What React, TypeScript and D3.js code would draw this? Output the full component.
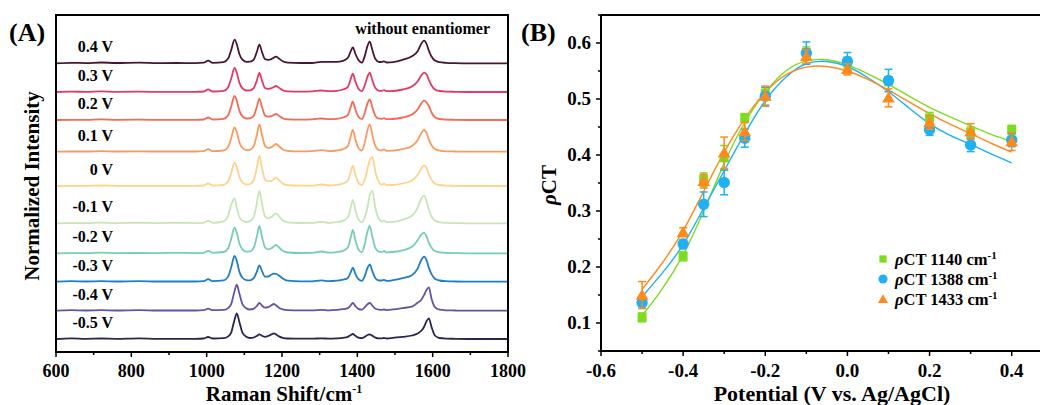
import React from 'react';
import * as d3 from 'd3';

// ---------- Panel A data ----------
const wavenumbers = [600, 640, 680, 720, 760, 820, 870, 920, 970, 992, 1004, 1016, 1045, 1057, 1065, 1074, 1080, 1087, 1095, 1105, 1115, 1125, 1133, 1140, 1147, 1155, 1163, 1172, 1178, 1184, 1192, 1202, 1215, 1250, 1280, 1305, 1325, 1345, 1362, 1375, 1382, 1388, 1395, 1403, 1412, 1420, 1427, 1433, 1440, 1448, 1458, 1465, 1471, 1478, 1495, 1520, 1545, 1560, 1569, 1577, 1584, 1590, 1597, 1606, 1618, 1635, 1660, 1700, 1800];

const voltageLabels = ['0.4 V', '0.3 V', '0.2 V', '0.1 V', '0 V', '-0.1 V', '-0.2 V', '-0.3 V', '-0.4 V', '-0.5 V'];
const offsets = [288.7, 260, 232, 200.3, 166, 128.7, 98.7, 70.3, 41.3, 13];

const specP04 = [0, 0.5, 0.2, 0.8, 0.3, 0.7, 0.2, 0.3, 0.2, 0.6, 2.7, 0.5, 1.2, 4.7, 13, 23.7, 19, 9, 3.6, 1.5, 1.6, 3.7, 11.2, 18.7, 11.2, 4.1, 3.5, 4.2, 5.6, 6.7, 4.7, 2, 0.7, 0.3, 0.3, 1.5, 1.5, 1.5, 2.5, 5.5, 11.6, 16, 9.3, 3.3, 0.6, 7.6, 17.4, 21.7, 13, 4.3, 1.3, 1.5, 2, 0.8, 1.2, 3.5, 7, 12, 19, 22.7, 19.3, 12.5, 6.8, 2.7, 1.1, 0.5, 0.2, 0, 0];
const specP03 = [0, 0.3, 0.2, 0.6, 0.2, 0.3, 0.2, 0.2, 0.2, 0.5, 2.7, 0.5, 1.2, 4.8, 13.2, 24, 19.2, 9.1, 3.6, 1.5, 1.6, 3.8, 11.4, 19, 11.4, 4, 3.2, 3.8, 5, 6, 4.2, 1.8, 0.6, 0.3, 0.6, 1.5, 0.8, 1.2, 2.5, 5.2, 12.5, 18.3, 10.3, 3.3, 0.8, 7, 15.4, 19.3, 11.6, 3.9, 1.2, 1.2, 1.8, 0.8, 1, 2.5, 5.5, 10.5, 16, 19.3, 17.5, 12, 6.5, 2.5, 1, 0.4, 0.2, 0, 0];
const specP02 = [0, 0.2, 0.2, 0.6, 0.2, 0.3, 0.2, 0.2, 0.2, 0.5, 2.5, 0.5, 1.2, 4.8, 13.2, 24, 19.2, 9.1, 3.6, 1.5, 1.7, 4.3, 12.8, 21.3, 12.8, 4.5, 3.3, 3.8, 5, 6, 4.2, 1.8, 0.6, 0.3, 0.6, 1.5, 0.8, 1.2, 2.5, 5.2, 12.5, 18.3, 10.3, 3.3, 0.9, 7.5, 16.6, 20.7, 12.4, 4.1, 1.3, 1.2, 1.8, 0.8, 1, 2.5, 5.5, 10.5, 16, 19.3, 17.5, 14, 7.5, 2.8, 1, 0.4, 0.2, 0, 0];
const specP01 = [0, 0.2, 0.2, 0.6, 0.2, 0.3, 0.2, 0.2, 0.2, 0.5, 2.5, 0.5, 1.2, 4.9, 13.4, 24.3, 19.4, 9.2, 3.7, 1.6, 1.9, 5.5, 16.4, 27.3, 16.4, 5.8, 3.8, 4.6, 6.3, 7.7, 5.4, 2.3, 0.8, 0.3, 0.5, 1.5, 0.6, 1.2, 2.5, 5.8, 14.5, 21.7, 12, 3.6, 1, 9.6, 21.8, 27.3, 16.4, 5.5, 1.6, 1.4, 2.3, 0.9, 1, 2.5, 5.8, 11.5, 18, 21.7, 18.5, 12, 6.5, 2.6, 1.1, 0.4, 0.2, 0, 0];
const spec00 = [0, 0.2, 0.2, 0.5, 0.2, 0.2, 0.2, 0.2, 0.2, 0.5, 2.5, 0.5, 1.2, 4.7, 12.8, 23.3, 18.6, 8.9, 3.5, 1.5, 2, 6, 18, 30, 18, 6.3, 4.8, 5.2, 6.8, 8.3, 5.8, 2.5, 0.8, 0.3, 0.4, 1.5, 0.5, 1.2, 2.5, 5.5, 13.5, 20, 11, 3.3, 0.8, 6.5, 17, 26, 29, 14, 3.5, 1.4, 2.3, 0.9, 1, 2.5, 5.6, 11, 17, 20.7, 17.8, 11.5, 6.2, 2.5, 1, 0.4, 0.2, 0, 0];
const specN01 = [0, 0.2, 0.2, 0.6, 0.2, 0.5, 0.2, 0.5, 0.2, 0.5, 2.5, 0.5, 2, 7.5, 18.5, 25, 15, 6.3, 2.5, 1.3, 2.2, 6.5, 19.4, 32.3, 19.4, 6.8, 5, 6.2, 8.4, 10, 7, 3, 1, 0.3, 0.4, 1.5, 0.5, 1.2, 2.5, 6, 15, 23.3, 13, 3.8, 1, 6, 16, 28, 32.3, 15, 4, 1.6, 2.8, 1.2, 1.5, 3.5, 7.5, 15.5, 24, 27.7, 22, 13.5, 6.8, 2.8, 1.1, 0.4, 0.2, 0, 0];
const specN02 = [0, 0.2, 0.2, 0.6, 0.2, 0.3, 0.2, 0.5, 0.2, 0.5, 2.5, 0.5, 1.3, 5.1, 14.1, 25.7, 20.6, 9.8, 3.9, 1.6, 1.9, 5.5, 16.4, 27.3, 16.4, 5.8, 4, 5, 6.8, 8.3, 5.8, 2.5, 0.8, 0.3, 0.4, 1.8, 0.6, 1.2, 2.5, 6, 15, 23.3, 12.8, 3.8, 1.2, 9.6, 21.8, 27.3, 16.4, 5.5, 1.6, 1.4, 2.3, 0.9, 1.3, 3, 6.5, 13, 18.5, 20.7, 16.5, 10.5, 5.5, 2.3, 1, 0.4, 0.2, 0, 0];
const specN03 = [0, 0.5, 0.2, 0.5, 0.2, 0.6, 0.2, 0.2, 0.2, 0.5, 2.5, 0.5, 1.3, 5.1, 14.1, 25.7, 20.6, 9.8, 3.9, 1.6, 1.4, 3.5, 9.8, 16.3, 10.5, 5, 5.2, 7.2, 8, 7.8, 6.2, 3.2, 1, 0.3, 0.4, 1.3, 0.5, 1, 2, 3.8, 9, 14, 7.7, 2.5, 0.8, 6, 13.8, 17.3, 10.4, 3.5, 1.2, 1.2, 1.8, 0.8, 1.5, 3.5, 6.5, 13, 21, 25, 21.3, 13.8, 7.5, 3, 1.2, 0.5, 0.2, 0, 0];
const specN04 = [0, 0.5, 0.2, 0.5, 0.2, 0.6, 0.2, 0.2, 0.2, 0.5, 2, 0.5, 0.8, 2.6, 6.5, 19.5, 26, 16.9, 6.5, 2.3, 1.2, 2, 4.6, 7.7, 5, 3, 3.5, 5.4, 6.7, 5.4, 3, 1.3, 0.6, 0.3, 0.3, 0.8, 0.4, 0.8, 1.5, 2.6, 5.2, 7.7, 4.6, 1.8, 1, 3.5, 6.5, 7.7, 5, 2, 1, 0.8, 1.2, 0.6, 1.3, 2.6, 4, 8, 10.5, 15.5, 21, 23.3, 12, 3.5, 1, 0.4, 0.2, 0, 0];
const specN05 = [0, 0.7, 0.2, 0.5, 0.2, 0.7, 0.2, 0.2, 0.2, 0.5, 2, 0.5, 0.8, 2.6, 6.4, 19.3, 25.7, 16.7, 6.4, 2.3, 1, 1.5, 3, 4.7, 3.2, 2.2, 3, 4.6, 5.7, 4.6, 2.6, 1.1, 0.5, 0.3, 0.3, 0.7, 0.3, 0.6, 1.2, 2.2, 3.8, 5, 3.2, 1.3, 0.8, 2.3, 4, 4.7, 3.2, 1.4, 0.6, 0.6, 1, 0.5, 1.2, 2.2, 3.5, 5.5, 8, 12, 18, 20.7, 12, 3.5, 1, 0.4, 0.2, 0, 0];

const spectra = [specP04, specP03, specP02, specP01, spec00, specN01, specN02, specN03, specN04, specN05];
const spectraColors = ['#4a1531', '#e23a62', '#f46a55', '#fb9a5c', '#fdd38f', '#c8e6b5', '#76cfae', '#1f7fc2', '#6552a5', '#2b2550'];

const ticksA = [600, 800, 1000, 1200, 1400, 1600, 1800];
const minorTicksA = [700, 900, 1100, 1300, 1500, 1700];

// ---------- Panel B data ----------
const potentials = [-0.5, -0.4, -0.35, -0.3, -0.25, -0.2, -0.1, 0, 0.1, 0.2, 0.3, 0.4];
const rho1140 = [0.110, 0.219, 0.356, 0.395, 0.466, 0.510, 0.583, 0.565, 0.532, 0.466, 0.440, 0.445];
const err1140 = [0.008, 0.008, 0.012, 0.022, 0.008, 0.010, 0.010, 0.010, 0.008, 0.010, 0.010, 0.008];
const rho1388 = [0.136, 0.241, 0.312, 0.351, 0.430, 0.505, 0.582, 0.567, 0.533, 0.445, 0.418, 0.427];
const err1388 = [0.010, 0.008, 0.022, 0.022, 0.016, 0.016, 0.020, 0.016, 0.020, 0.010, 0.012, 0.012];
const rho1433 = [0.150, 0.262, 0.353, 0.404, 0.442, 0.505, 0.576, 0.553, 0.502, 0.458, 0.442, 0.424];
const err1433 = [0.024, 0.008, 0.012, 0.028, 0.016, 0.018, 0.012, 0.010, 0.016, 0.012, 0.014, 0.016];

const fitX = [-0.5, -0.45, -0.4, -0.35, -0.3, -0.25, -0.2, -0.15, -0.1, -0.05, 0, 0.05, 0.1, 0.15, 0.2, 0.25, 0.3, 0.35, 0.4];
const fit1140 = [0.113, 0.162, 0.222, 0.300, 0.385, 0.458, 0.512, 0.550, 0.568, 0.570, 0.561, 0.545, 0.526, 0.505, 0.485, 0.468, 0.452, 0.437, 0.424];
const fit1388 = [0.147, 0.190, 0.240, 0.305, 0.372, 0.438, 0.497, 0.539, 0.563, 0.567, 0.558, 0.538, 0.513, 0.484, 0.456, 0.435, 0.419, 0.402, 0.386];
const fit1433 = [0.160, 0.208, 0.265, 0.335, 0.405, 0.465, 0.512, 0.543, 0.557, 0.558, 0.550, 0.535, 0.516, 0.495, 0.474, 0.455, 0.438, 0.421, 0.405];

const ticksBX = [-0.6, -0.4, -0.2, 0.0, 0.2, 0.4];
const minorBX = [-0.5, -0.3, -0.1, 0.1, 0.3, 0.5];
const ticksBY = [0.1, 0.2, 0.3, 0.4, 0.5, 0.6];
const minorBY = [0.05, 0.15, 0.25, 0.35, 0.45, 0.55, 0.65];
const legendBands = ['1140', '1388', '1433'];

const FONT = "'Liberation Serif', 'Times New Roman', serif";

export default function App() {
  // Panel A scales
  const xA = d3.scaleLinear().domain([600, 1800]).range([56, 508]);
  const yA = d3.scaleLinear().domain([0, 337]).range([352, 15]);
  const lineA = d3.line<[number, number]>().x(d => xA(d[0])).y(d => yA(d[1])).curve(d3.curveMonotoneX);

  // Panel B scales
  const xB = d3.scaleLinear().domain([-0.6, 0.5]).range([601, 601 + 1.1 * 410.7]);
  const yB = d3.scaleLinear().domain([0.05, 0.65]).range([351, 15]);
  const lineB = d3.line<[number, number]>().x(d => xB(d[0])).y(d => yB(d[1])).curve(d3.curveNatural);

  const seriesB = [
    { vals: rho1140, errs: err1140, fit: fit1140, color: '#7ddc1f', shape: 'square' },
    { vals: rho1388, errs: err1388, fit: fit1388, color: '#1fb1f2', shape: 'circle' },
    { vals: rho1433, errs: err1433, fit: fit1433, color: '#ff8a1c', shape: 'triangle' },
  ];

  const tri = d3.symbol().type(d3.symbolTriangle).size(70)();
  const marker = (shape: string, x: number, y: number, color: string, key: string, scale = 1) => {
    if (shape === 'square') return <rect key={key} x={x - 4.5 * scale} y={y - 4.5 * scale} width={9 * scale} height={9 * scale} fill={color} />;
    if (shape === 'circle') return <circle key={key} cx={x} cy={y} r={5.7 * scale} fill={color} />;
    return <path key={key} d={tri as string} transform={`translate(${x},${y + 1}) scale(${scale})`} fill={color} />;
  };

  return (
    <div style={{ position: 'absolute', left: 0, top: 0 }}>
      <svg width={1040} height={405} style={{ display: 'block', background: '#fff' }} fontFamily={FONT} fontWeight="bold">
        {/* ================= Panel A ================= */}
        <text x={9} y={41} fontSize={26}>(A)</text>
        {spectra.map((s, i) => (
          <path key={'sp' + i}
            d={lineA(wavenumbers.map((w, j) => [w, offsets[i] + s[j]] as [number, number])) as string}
            fill="none" stroke={spectraColors[i]} strokeWidth={1.8} />
        ))}
        {voltageLabels.map((v, i) => (
          <text key={'vl' + i} x={113} y={yA(offsets[i]) - 11} fontSize={16} textAnchor="end">{v}</text>
        ))}
        <text x={490} y={34} fontSize={16} textAnchor="end">without enantiomer</text>
        <rect x={xA(600)} y={yA(337)} width={xA(1800) - xA(600)} height={yA(0) - yA(337)} fill="none" stroke="#000" strokeWidth={2} />
        {ticksA.map(t => (
          <g key={'ta' + t}>
            <line x1={xA(t)} x2={xA(t)} y1={yA(0)} y2={yA(0) + 5} stroke="#000" strokeWidth={1.5} />
            <text x={xA(t)} y={377} fontSize={18} textAnchor="middle">{t}</text>
          </g>
        ))}
        {minorTicksA.map(t => (
          <line key={'ma' + t} x1={xA(t)} x2={xA(t)} y1={yA(0)} y2={yA(0) + 3} stroke="#000" strokeWidth={1.5} />
        ))}
        <text x={284} y={401} fontSize={21} textAnchor="middle">Raman Shift/cm<tspan dy={-8} fontSize={12}>-1</tspan></text>
        <text transform="translate(39,186) rotate(-90)" fontSize={21} textAnchor="middle">Normalized Intensity</text>

        {/* ================= Panel B ================= */}
        <text x={521} y={41} fontSize={26}>(B)</text>
        {seriesB.map((s, i) => (
          <path key={'fit' + i} d={lineB(fitX.map((x, j) => [x, s.fit[j]] as [number, number])) as string}
            fill="none" stroke={s.color} strokeWidth={1.4} />
        ))}
        {seriesB.map((s, i) => (
          <g key={'ser' + i}>
            {potentials.map((p, j) => {
              const cx = xB(p);
              const yt = yB(s.vals[j] + s.errs[j]);
              const yb = yB(s.vals[j] - s.errs[j]);
              return (
                <g key={'e' + j} stroke={s.color} strokeWidth={1.5}>
                  <line x1={cx} x2={cx} y1={yt} y2={yb} />
                  <line x1={cx - 4} x2={cx + 4} y1={yt} y2={yt} />
                  <line x1={cx - 4} x2={cx + 4} y1={yb} y2={yb} />
                </g>
              );
            })}
            {potentials.map((p, j) => marker(s.shape, xB(p), yB(s.vals[j]), s.color, 'm' + j))}
          </g>
        ))}
        {/* axes */}
        <line x1={xB(-0.6)} x2={1040} y1={yB(0.65)} y2={yB(0.65)} stroke="#000" strokeWidth={2} />
        <line x1={xB(-0.6)} x2={1040} y1={yB(0.05)} y2={yB(0.05)} stroke="#000" strokeWidth={2} />
        <line x1={xB(-0.6)} x2={xB(-0.6)} y1={yB(0.65)} y2={yB(0.05) + 1} stroke="#000" strokeWidth={2} />
        {ticksBX.map(t => (
          <g key={'tbx' + t}>
            <line x1={xB(t)} x2={xB(t)} y1={yB(0.05)} y2={yB(0.05) + 5} stroke="#000" strokeWidth={1.5} />
            <text x={xB(t)} y={377} fontSize={19} textAnchor="middle">{d3.format('.1f')(t).replace('−', '-')}</text>
          </g>
        ))}
        {minorBX.map(t => (
          <line key={'mbx' + t} x1={xB(t)} x2={xB(t)} y1={yB(0.05)} y2={yB(0.05) + 3} stroke="#000" strokeWidth={1.5} />
        ))}
        {ticksBY.map(t => (
          <g key={'tby' + t}>
            <line x1={xB(-0.6) - 5} x2={xB(-0.6)} y1={yB(t)} y2={yB(t)} stroke="#000" strokeWidth={1.5} />
            <text x={591} y={yB(t) + 6} fontSize={19} textAnchor="end">{t.toFixed(1)}</text>
          </g>
        ))}
        {minorBY.map(t => (
          <line key={'mby' + t} x1={xB(-0.6) - 3} x2={xB(-0.6)} y1={yB(t)} y2={yB(t)} stroke="#000" strokeWidth={1.5} />
        ))}
        <text x={832} y={401} fontSize={22} textAnchor="middle">Potential (V vs. Ag/AgCl)</text>
        <text transform="translate(556,185) rotate(-90)" fontSize={21} textAnchor="middle">
          <tspan fontStyle="italic">ρ</tspan>CT
        </text>
        {/* legend */}
        {seriesB.map((s, i) => (
          <g key={'lg' + i}>
            {marker(s.shape, 883, 259 + i * 20, s.color, 'lm' + i, 0.8)}
            <text x={895} y={265 + i * 20} fontSize={16.5}>
              <tspan fontStyle="italic">ρ</tspan>CT {legendBands[i]} cm<tspan dy={-6} fontSize={11}>-1</tspan>
            </text>
          </g>
        ))}
      </svg>
    </div>
  );
}
